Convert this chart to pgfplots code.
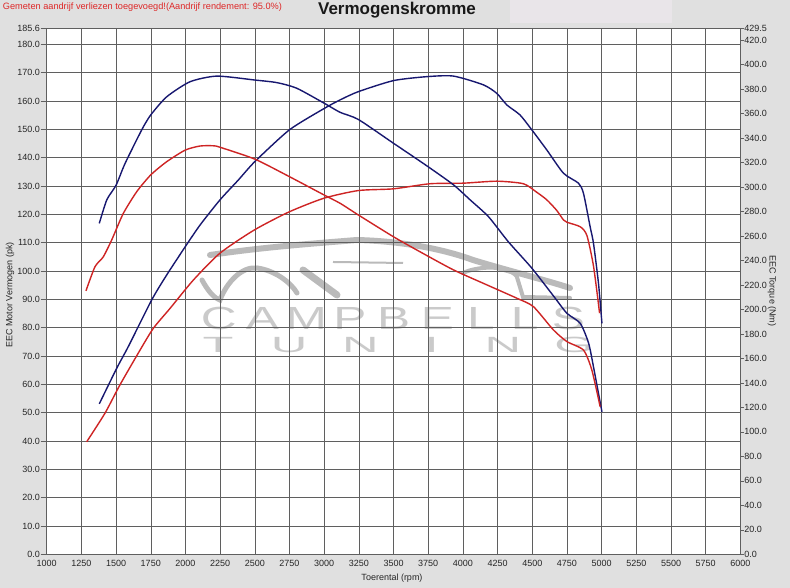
\documentclass[border=0pt]{standalone}
\usepackage{pgfplots}
\pgfplotsset{compat=1.18}
\usepackage{fontspec}
\setmainfont{Liberation Sans}
\definecolor{bg}{RGB}{224,224,224}
\definecolor{boxc}{RGB}{233,229,233}
\definecolor{navy}{RGB}{24,24,112}
\definecolor{cred}{RGB}{206,36,36}
\definecolor{notered}{RGB}{222,40,40}
\definecolor{gridc}{RGB}{95,95,95}
\definecolor{wmtext}{RGB}{202,202,202}
\definecolor{wmcar}{RGB}{186,186,186}

\begin{document}
\begin{tikzpicture}
\path[use as bounding box,fill=bg] (-46.7pt,-33.7pt) rectangle (743.3pt,554.3pt);
\fill[white] (0pt,0pt) rectangle (693.7pt,525.8pt);
\fill[boxc] (463.3pt,531.3pt) rectangle (625.3pt,554.3pt);

% watermark (under grid and curves)
\draw[wmcar, line width=6pt, line cap=round] (163.3pt,299.3pt) .. controls (210pt,306pt) and (243pt,309pt) .. (310.3pt,314.3pt) .. controls (360pt,313pt) and (400pt,304pt) .. (426.3pt,294.3pt) .. controls (460pt,284pt) and (500pt,274pt) .. (523.3pt,266.3pt);
\draw[wmcar, line width=2pt] (286.3pt,292.3pt) -- (356.3pt,291.3pt);
\draw[wmcar, line width=5pt, line cap=round] (155.3pt,274.3pt) .. controls (162pt,262pt) and (168pt,256pt) .. (173.3pt,254.3pt) .. controls (180pt,272pt) and (195pt,288pt) .. (210.3pt,286.3pt) .. controls (228pt,284pt) and (244pt,272pt) .. (250.3pt,261.3pt);
\draw[wmcar, line width=7pt, line cap=round] (256.3pt,284.3pt) -- (290.3pt,259.3pt);
\draw[wmcar, line width=4pt, line cap=round] (416.3pt,281.3pt) .. controls (430pt,288pt) and (460pt,290pt) .. (470pt,278pt) -- (476.3pt,257.3pt) -- (523.3pt,256.3pt);
\foreach \c [count=\i from 0] in {C,A,M,P,B,E,L,L,S}
  \node[font=\fontsize{32}{33}\selectfont, text=wmtext, inner sep=0pt, xscale=1.55] at ({172.1pt+43.7pt*\i}, 235.8pt) {\c};
\foreach \c [count=\i from 0] in {T,U,N,I,N,G}
  \node[font=\fontsize{22}{23}\selectfont, text=wmtext, inner sep=0pt, xscale=2.3] at ({171.3pt+71.2pt*\i}, 209.3pt) {\c};

% power axis (left)
\begin{axis}[
  at={(0pt,0pt)}, anchor=south west,
  scale only axis, width=693.7pt, height=525.8pt,
  xmin=1000, xmax=6000, ymin=0, ymax=185.6,
  xtick={1000,1250,...,6000},
  ytick={0,10,...,180,185.6},
  grid=major, grid style={gridc, line width=0.45pt},
  axis line style={draw=none},
  tick align=outside, major tick length=6pt,
  xtick style={draw=none}, ytick style={gridc, line width=0.45pt},
  xtick pos=bottom, ytick pos=left,
  tick label style={font=\fontsize{9}{10}\selectfont, text=black!85},
  yticklabel style={inner sep=0.5pt},
  xticklabel style={yshift=4pt},
  /pgf/number format/assume math mode=true,
  yticklabel={\pgfmathprintnumber[fixed,fixed zerofill,precision=1]{\tick}},
  xticklabel={\pgfmathprintnumber[fixed,precision=0,set thousands separator={}]{\tick}},
  clip=true,
]
% blue power
\addplot[navy, line width=1.4pt, smooth, tension=0.4] coordinates {
(1379,53.1)(1505,65.7)(1588,73.3)(1757,89.8)(1865,98.6)(1999,108.6)(2105,116.2)(2249,125.1)
(2381,132.1)(2500,138.6)(2749,149.8)(3001,157.4)(3115,160.4)(3246,163.3)(3499,167.2)
(3740,168.6)(3932,168.8)(4148,165.7)(4244,162.7)(4317,158.6)(4411,155.1)(4497,149.8)
(4605,142.7)(4725,134.5)(4833,131.0)(4869,127.4)(4917,115.6)(4941,109.8)(4977,95.7)(5002,81.5)};
% red power
\addplot[cred, line width=1.4pt, smooth, tension=0.4] coordinates {
(1288,39.7)(1420,49.8)(1528,59.8)(1673,72.1)(1769,79.8)(1889,86.8)(2057,96.8)(2249,106.3)
(2497,114.5)(2749,120.9)(2999,125.7)(3247,128.4)(3499,129.0)(3763,130.8)(4003,131.0)
(4244,131.7)(4436,130.8)(4532,127.8)(4605,125.1)(4676,121.4)(4725,118.0)(4750,117.2)
(4846,115.6)(4894,112.5)(4942,101.5)(4985,85.1)};
\end{axis}

% torque axis (right)
\begin{axis}[
  at={(0pt,0pt)}, anchor=south west,
  scale only axis, width=693.7pt, height=525.8pt,
  xmin=1000, xmax=6000, ymin=0, ymax=429.5,
  hide x axis,
  axis y line*=right,
  axis line style={draw=none},
  ytick={0,20,...,420,429.5},
  tick align=outside, major tick length=3.5pt,
  ytick style={gridc, line width=0.45pt},
  tick label style={font=\fontsize{9}{10}\selectfont, text=black!85},
  yticklabel style={inner sep=0.3pt},
  /pgf/number format/assume math mode=true,
  yticklabel={\pgfmathprintnumber[fixed,fixed zerofill,precision=1]{\tick}},
]
% blue torque
\addplot[navy, line width=1.4pt, smooth, tension=0.4] coordinates {
(1379,270.3)(1433,289.5)(1500,301.5)(1565,319.3)(1685,346.7)(1750,358.9)(1865,373.7)
(2033,386.0)(2226,390.6)(2500,387.4)(2658,385.3)(2802,380.7)(3001,368.4)(3115,361.0)
(3246,355.2)(3499,335.8)(3740,317.3)(3932,301.8)(4052,289.5)(4184,275.8)(4328,255.2)
(4497,233.7)(4665,209.2)(4749,196.9)(4846,188.6)(4906,172.4)(4941,153.2)(5002,116.4)};
% red torque
\addplot[cred, line width=1.4pt, smooth, tension=0.4] coordinates {
(1283,215.2)(1348,234.9)(1408,243.0)(1469,256.9)(1552,278.4)(1649,296.2)(1750,309.9)
(1865,320.7)(1999,330.2)(2105,333.5)(2200,333.7)(2249,332.5)(2500,322.8)(2749,308.5)
(3001,293.4)(3115,286.7)(3246,277.2)(3499,259.4)(3691,247.1)(3932,232.3)(4172,220.1)
(4388,209.2)(4508,202.3)(4652,183.3)(4749,173.8)(4869,166.8)(4929,150.6)(4989,120.6)};
\end{axis}

% texts
\node[font=\fontsize{17}{20}\selectfont\bfseries, text=black!90] at (350.3pt,544.3pt) {Vermogenskromme};
\node[font=\fontsize{9.2}{10}\selectfont, text=notered, anchor=west, inner sep=0pt] at (-44pt,547.6pt) {Gemeten aandrijf verliezen toegevoegd!(Aandrijf rendement: 95.0\%)};
\node[font=\fontsize{9}{10}\selectfont, text=black!85] at (345.3pt,-23.7pt) {Toerental (rpm)};
\node[font=\fontsize{9}{10}\selectfont, text=black!85, rotate=90] at (-36.7pt,259.3pt) {EEC Motor Vermogen (pk)};
\node[font=\fontsize{9}{10}\selectfont, text=black!85, rotate=-90] at (725.3pt,263.3pt) {EEC Torque (Nm)};
\end{tikzpicture}
\end{document}
